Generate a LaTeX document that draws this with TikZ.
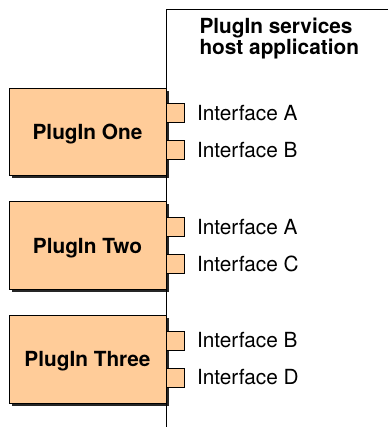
\documentclass[tikz,border=0pt]{standalone}
\usepackage{fontspec}
\setmainfont{TeX Gyre Heros}
\definecolor{peach}{RGB}{255,204,153}
\begin{document}
\begin{tikzpicture}[x=1pt,y=-1pt,line width=1pt,
  plugbox/.style={draw=black,fill=peach,line join=miter},
  shadowbox/.style={fill=black!85},
  boxlabel/.style={font=\bfseries\fontsize{20.8}{24}\selectfont,inner sep=0pt,anchor=base},
  titlelabel/.style={font=\bfseries\fontsize{20.8}{24}\selectfont,inner sep=0pt,anchor=base west},
  iflabel/.style={font=\fontsize{20.8}{24}\selectfont,inner sep=0pt,anchor=base west},
  hostline/.style={draw=black,line width=1pt}]
\useasboundingbox (0,0) rectangle (388,427);
\foreach \t/\name/\ia/\ib [count=\i] in {88.5/One/A/B, 202/Two/A/C, 315.5/Three/B/D}{
  \fill[shadowbox] (11.5,\t+2.5) rectangle (168.5,\t+90);
  \draw[plugbox] (9,\t) -- (166.5,\t) -- (166.5,\t+15.5) -- (184,\t+15.5) -- (184,\t+34.5)
    -- (166.5,\t+34.5) -- (166.5,\t+52.5) -- (184,\t+52.5) -- (184,\t+71.5)
    -- (166.5,\t+71.5) -- (166.5,\t+87.5) -- (9,\t+87.5) -- cycle;
  \node[boxlabel] (plug\i) at (87.5,\t+51) {PlugIn \name};
  \node[iflabel] (if\i a) at (196.5,\t+32.3) {Interface \ia};
  \node[iflabel] (if\i b) at (196.5,\t+69.3) {Interface \ib};
}
\draw[hostline] (388,9.5) -- (166.5,9.5) -- (166.5,427);
\node[titlelabel] (host1) at (199,33.3) {PlugIn services};
\node[titlelabel] (host2) at (199,55) {host application};
\end{tikzpicture}
\end{document}
